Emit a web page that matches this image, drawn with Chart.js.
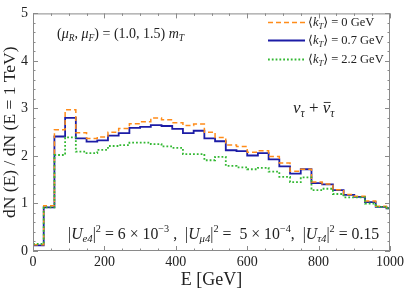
<!DOCTYPE html>
<html>
<head>
<meta charset="utf-8">
<script src="https://cdn.jsdelivr.net/npm/chart.js@4"></script>
<style>
  html, body { margin: 0; padding: 0; background: #fff; }
  #wrap { width: 407px; height: 300px; }
</style>
</head>
<body>
<div id="wrap"><canvas id="chart" width="407" height="300"></canvas></div>
<script>
// bin left edges (GeV), last point closes the histogram at 1000
const binEdges = [0,30,60,90,120,150,180,210,240,270,300,330,360,390,420,450,480,510,540,570,600,630,660,690,720,750,780,810,840,870,900,930,960,990];
const kt0  = [0.13,0.95,2.55,2.97,2.49,2.37,2.40,2.50,2.58,2.68,2.72,2.80,2.76,2.70,2.64,2.67,2.50,2.39,2.23,2.20,2.08,2.11,1.99,1.85,1.68,1.72,1.45,1.41,1.29,1.19,1.15,1.05,0.94,0.91];
const kt07 = [0.12,0.92,2.41,2.80,2.37,2.30,2.33,2.43,2.48,2.59,2.61,2.65,2.63,2.57,2.48,2.53,2.37,2.31,2.12,2.10,2.01,2.06,1.93,1.78,1.63,1.72,1.43,1.40,1.28,1.18,1.14,1.03,0.93,0.90];
const kt22 = [0.15,0.92,2.02,2.39,2.09,2.06,2.13,2.21,2.23,2.28,2.28,2.25,2.20,2.17,2.04,2.04,1.91,1.98,1.79,1.76,1.72,1.75,1.67,1.56,1.45,1.55,1.28,1.31,1.20,1.13,1.13,1.00,0.93,0.90];
const xTicks = [0,200,400,600,800,1000];
const yTicks = [0,1,2,3,4,5];

const ORANGE = "#ff8c1a";
const BLUE = "#1c1ca6";
const GREEN = "#33b833";
const SERIF = "'Liberation Serif', 'DejaVu Serif', serif";

// one point per bin start, plus the closing point at 1000
function toPoints(vals) {
  const pts = binEdges.map((e, i) => ({ x: e, y: vals[i] }));
  pts.push({ x: 1000, y: vals[vals.length - 1] });
  return pts;
}

// draw text made of pieces (italic / subscript / superscript)
function drawRich(ctx, x, y, segs, size) {
  ctx.save();
  ctx.textBaseline = "alphabetic";
  ctx.textAlign = "left";
  ctx.fillStyle = "#222";
  segs.forEach(s => {
    let sz = size, dy = 0;
    if (s.sub) { sz = size * 0.68; dy = size * 0.22; }
    if (s.sup) { sz = size * 0.65; dy = -size * 0.42; }
    ctx.font = (s.it ? "italic " : "") + sz + "px " + SERIF;
    ctx.fillText(s.t, x, y + dy);
    const w = ctx.measureText(s.t).width;
    if (s.bar) {
      ctx.strokeStyle = "#222";
      ctx.lineWidth = 0.9;
      ctx.beginPath();
      ctx.moveTo(x + 1, y - size * 0.62);
      ctx.lineTo(x + w + 0.5, y - size * 0.62);
      ctx.stroke();
    }
    x += w + (s.gap || 0);
  });
  ctx.restore();
}

const decor = {
  id: "decor",
  afterDatasetsDraw(chart) {
    const { ctx, chartArea: a, scales: { x, y } } = chart;
    ctx.save();
    // frame
    ctx.strokeStyle = "#8a8a8a";
    ctx.lineWidth = 1;
    ctx.strokeRect(a.left + 0.5, a.top + 0.5, a.right - a.left - 1, a.bottom - a.top - 1);
    // inward ticks
    ctx.beginPath();
    for (let v = 0; v <= 1000; v += 50) {
      const px = Math.round(x.getPixelForValue(v)) + 0.5;
      const len = v % 200 === 0 ? 5 : 2.5;
      ctx.moveTo(px, a.bottom); ctx.lineTo(px, a.bottom - len);
      ctx.moveTo(px, a.top); ctx.lineTo(px, a.top + len);
    }
    for (let k = 0; k <= 25; k++) {
      const v = k * 0.2;
      const py = Math.round(y.getPixelForValue(v)) + 0.5;
      const len = k % 5 === 0 ? 5 : 2.5;
      ctx.moveTo(a.left, py); ctx.lineTo(a.left + len, py);
      ctx.moveTo(a.right, py); ctx.lineTo(a.right - len, py);
    }
    ctx.stroke();

    // legend
    const leg = [
      { c: ORANGE, d: [5, 3], w: 1.5, t: "0" },
      { c: BLUE, d: [], w: 1.8, t: "0.7" },
      { c: GREEN, d: [1.8, 2], w: 1.8, t: "2.2" }
    ];
    const ly = [22, 40, 59];
    leg.forEach((l, i) => {
      ctx.strokeStyle = l.c;
      ctx.lineWidth = l.w;
      ctx.setLineDash(l.d);
      ctx.beginPath();
      ctx.moveTo(268, ly[i] + 0.5); ctx.lineTo(305, ly[i] + 0.5);
      ctx.stroke();
      ctx.setLineDash([]);
      drawRich(ctx, 308, ly[i] + 4, [
        { t: "\u27E8" }, { t: "k", it: true }, { t: "T", it: true, sub: true }, { t: "\u27E9 = " + l.t + " GeV" }
      ], 12.5);
    });

    // annotations
    drawRich(ctx, 57, 38, [
      { t: "(" }, { t: "\u03BC", it: true }, { t: "R", it: true, sub: true }, { t: ", " },
      { t: "\u03BC", it: true }, { t: "F", it: true, sub: true }, { t: ") = (1.0, 1.5) " },
      { t: "m", it: true }, { t: "T", it: true, sub: true }
    ], 14);

    drawRich(ctx, 293, 113, [
      { t: "\u03BD", it: true }, { t: "\u03C4", it: true, sub: true }, { t: " + " },
      { t: "\u03BD", it: true, bar: true }, { t: "\u03C4", it: true, sub: true }
    ], 17);

    drawRich(ctx, 68, 239, [
      { t: "|" }, { t: "U", it: true }, { t: "e4", it: true, sub: true }, { t: "|" }, { t: "2", sup: true },
      { t: " = 6 \u00D7 10" }, { t: "\u22123", sup: true }, { t: " ,  |" },
      { t: "U", it: true }, { t: "\u03BC4", it: true, sub: true }, { t: "|" }, { t: "2", sup: true },
      { t: " =  5 \u00D7 10" }, { t: "\u22124", sup: true }, { t: ",  |" },
      { t: "U", it: true }, { t: "\u03C44", it: true, sub: true }, { t: "|" }, { t: "2", sup: true },
      { t: " = 0.15" }
    ], 15.8);
    ctx.restore();
  }
};

const ctx = document.getElementById("chart").getContext("2d");
new Chart(ctx, {
  type: "line",
  data: {
    datasets: [
      { label: "kT = 2.2 GeV", data: toPoints(kt22), borderColor: GREEN, borderWidth: 1.8, borderDash: [1.8, 2], stepped: "before", pointRadius: 0, fill: false },
      { label: "kT = 0 GeV", data: toPoints(kt0), borderColor: ORANGE, borderWidth: 1.5, borderDash: [5, 3], stepped: "before", pointRadius: 0, fill: false },
      { label: "kT = 0.7 GeV", data: toPoints(kt07), borderColor: BLUE, borderWidth: 1.8, stepped: "before", pointRadius: 0, fill: false }
    ]
  },
  options: {
    responsive: false,
    animation: false,
    layout: { padding: { top: 8, right: 16, left: 0, bottom: 0 } },
    plugins: { legend: { display: false }, tooltip: { enabled: false } },
    scales: {
      x: {
        type: "linear", min: 0, max: 1000,
        afterBuildTicks: s => { s.ticks = xTicks.map(v => ({ value: v })); },
        afterFit: s => { s.height = 49; },
        grid: { display: false, drawTicks: false },
        border: { display: false },
        ticks: { color: "#222", padding: 3, maxRotation: 0, callback: v => String(v), font: { family: SERIF, size: 14 } },
        title: { display: true, text: "E [GeV]", color: "#222", padding: { top: 0, bottom: 9 }, font: { family: SERIF, size: 18 } }
      },
      y: {
        type: "linear", min: 0, max: 5,
        afterBuildTicks: s => { s.ticks = yTicks.map(v => ({ value: v })); },
        afterFit: s => { s.width = 33; },
        grid: { display: false, drawTicks: false },
        border: { display: false },
        ticks: { color: "#222", padding: 5, callback: v => String(v), font: { family: SERIF, size: 14 } },
        title: { display: true, text: "dN (E) / dN (E = 1 TeV)", color: "#222", padding: { top: 0, bottom: 0 }, font: { family: SERIF, size: 17.5 } }
      }
    }
  },
  plugins: [decor]
});
</script>
</body>
</html>
